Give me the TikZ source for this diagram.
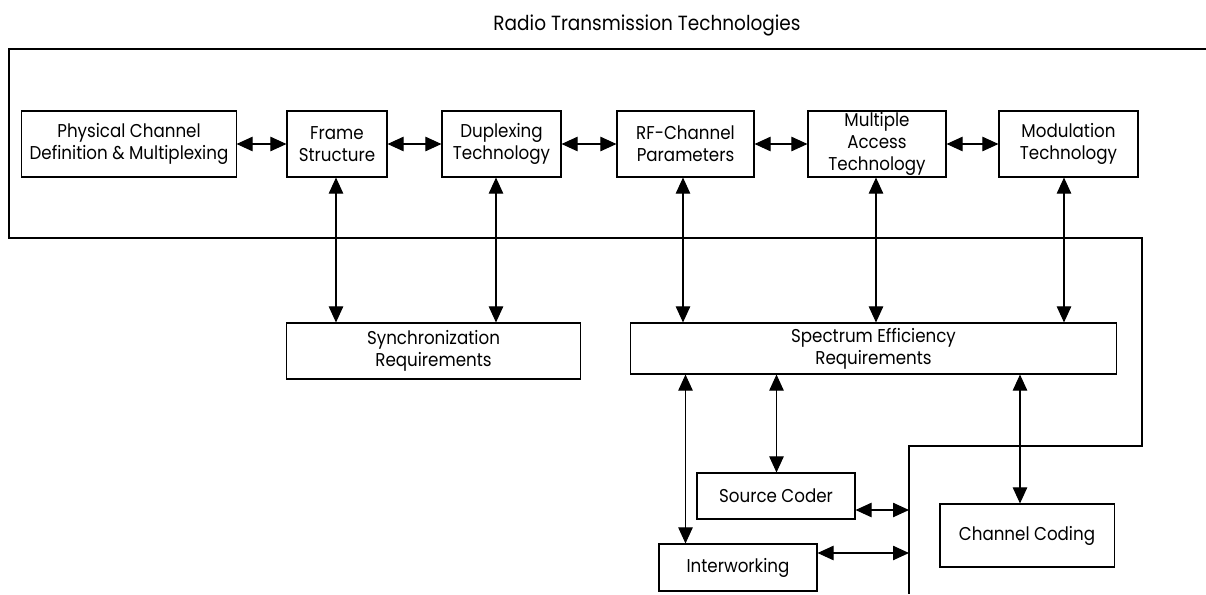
\documentclass[tikz,border=0pt]{standalone}
\usepackage{fontspec}
\setmainfont{Poppins}[FakeStretch=0.9]
\usetikzlibrary{arrows.meta}
\tikzset{>={Triangle[length=4mm,width=3.6mm]}}
\tikzstyle{block}=[draw, line width=0.75pt, align=center, inner sep=0pt, font=\fontsize{13.2}{15.6}\selectfont]
\tikzstyle{heading}=[inner sep=0pt, font=\fontsize{14.6}{17}\selectfont]
\tikzstyle{link}=[line width=0.75pt, <->]
\tikzstyle{outline}=[line width=0.75pt]

\begin{document}
\begin{tikzpicture}[x=0.025cm, y=-0.025cm]
			\useasboundingbox (0,0) rectangle (1206,594);
			\node[heading] (rtt) at (647,25) {Radio Transmission Technologies};

			%%% Outline of the technologies block
			\draw[outline] (1206,49) -- (9,49) -- (9,238) -- (1142,238) -- (1142,446) -- (909,446) -- (909,594);
			\coordinate (srcR) at (909,510);
			\coordinate (intR) at (909,553);

			%%% Top row
			\node[block, minimum width=5.35cm,  minimum height=1.65cm] (phys)  at (129,144)   {Physical Channel\\Definition \& Multiplexing};
			\node[block, minimum width=2.5cm,   minimum height=1.65cm] (frame) at (337,144)   {Frame\\Structure};
			\node[block, minimum width=2.975cm, minimum height=1.65cm] (dup)   at (501.5,144) {Duplexing\\Technology};
			\node[block, minimum width=3.425cm, minimum height=1.65cm] (rf)    at (685.5,144) {RF-Channel\\Parameters};
			\node[block, minimum width=3.45cm,  minimum height=1.65cm] (mac)   at (877,144)   {Multiple\\Access\\Technology};
			\node[block, minimum width=3.475cm, minimum height=1.65cm] (mod)   at (1068.5,144) {Modulation\\Technology};

			%%% Requirements
			\node[block, minimum width=7.325cm, minimum height=1.4cm]   (sync) at (433.5,351) {Synchronization\\Requirements};
			\node[block, minimum width=12.125cm, minimum height=1.275cm] (spec) at (873.5,348.5) {Spectrum Efficiency\\Requirements};

			%%% Bottom
			\node[block, minimum width=3.95cm, minimum height=1.15cm]  (src)   at (776,496)    {Source Coder};
			\node[block, minimum width=3.95cm, minimum height=1.175cm] (inter) at (738,567.5)  {Interworking};
			\node[block, minimum width=4.35cm, minimum height=1.575cm] (chan)  at (1027,535.5) {Channel Coding};

			% columns of the vertical links
			\coordinate (c1) at (336,0);
			\coordinate (c2) at (496,0);
			\coordinate (c3) at (683,0);
			\coordinate (c4) at (876,0);
			\coordinate (c5) at (1064,0);
			\coordinate (c6) at (685.5,0);
			\coordinate (c7) at (776.5,0);
			\coordinate (c8) at (1020,0);

			%%% Links
			% Along the top row
			\path[link] (phys)edge(frame) (frame)edge(dup) (dup)edge(rf) (rf)edge(mac) (mac)edge(mod);
			% Down to the requirements
			\path[link] (frame.south -| c1)edge(sync.north -| c1) (dup.south -| c2)edge(sync.north -| c2);
			\path[link] (rf.south -| c3)edge(spec.north -| c3) (mac.south -| c4)edge(spec.north -| c4) (mod.south -| c5)edge(spec.north -| c5);
			% Down from the spectrum block
			\path[link] (spec.south -| c6)edge(inter.north -| c6) (spec.south -| c7)edge(src.north -| c7) (spec.south -| c8)edge(chan.north -| c8);
			% Into the outline
			\path[link] (src.east |- srcR)edge(srcR) (inter.east |- intR)edge(intR);
		\end{tikzpicture}
\end{document}
